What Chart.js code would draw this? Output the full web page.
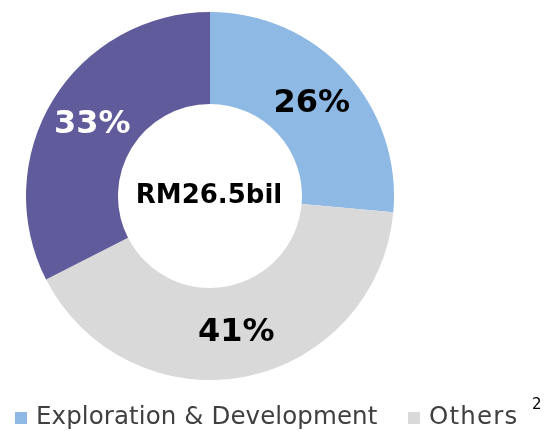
<!DOCTYPE html>
<html>
<head>
<meta charset="utf-8">
<script src="https://cdn.jsdelivr.net/npm/chart.js@4.4.0/dist/chart.umd.min.js"></script>
<style>
  html, body { margin: 0; padding: 0; background: #fff; font-family: "DejaVu Sans", Verdana, sans-serif; }
  #wrap { position: relative; width: 546px; height: 431px; }
</style>
</head>
<body>
<div id="wrap"><canvas id="spendChart" width="546" height="431"></canvas></div>
<script>
var categories = ['Exploration & Development', 'Others', 'Production'];
var shares = [26.4, 41.1, 32.5];
var sliceColors = ['#8EB9E5', '#D9D9D9', '#605B9B'];
var labelColors = ['#000000', '#000000', '#FFFFFF'];
var legendShown = ['Exploration & Development', 'Others']; // third entry is cut off in the source
var centerLabel = 'RM26.5bil';
var footnoteMark = '2';

var FONT = '"DejaVu Sans", Verdana, sans-serif';

// percentage labels on the slices + the total in the hole
var sliceLabels = {
    id: 'sliceLabels',
    afterDatasetsDraw: function(chart) {
        var ctx = chart.ctx;
        var meta = chart.getDatasetMeta(0);
        ctx.save();
        ctx.textAlign = 'center';
        ctx.textBaseline = 'middle';
        ctx.font = 'bold 32px ' + FONT;
        meta.data.forEach(function(arc, i) {
            var p = arc.tooltipPosition();
            ctx.fillStyle = labelColors[i];
            ctx.fillText(Math.round(shares[i]) + '%', p.x, p.y + 1);
        });
        var c = meta.data[0];
        ctx.fillStyle = '#000';
        ctx.font = 'bold 26px ' + FONT;
        ctx.fillText(centerLabel, c.x - 1, c.y);
        ctx.restore();
    }
};

// legend drawn by hand so it can sit independent of the doughnut's centre
var legendBoxX = [15, 408];
var bottomLegend = {
    id: 'bottomLegend',
    afterDraw: function(chart) {
        var ctx = chart.ctx;
        var baseline = 424;
        ctx.save();
        ctx.font = '24.5px ' + FONT;
        ctx.textBaseline = 'alphabetic';
        legendShown.forEach(function(name, i) {
            var idx = categories.indexOf(name);
            var x = legendBoxX[i];
            ctx.fillStyle = sliceColors[idx];
            ctx.fillRect(x, baseline - 12, 12, 12);
            ctx.fillStyle = '#404040';
            ctx.letterSpacing = i === 1 ? '1.2px' : '0.1px';
            ctx.fillText(name, x + 21, baseline);
        });
        ctx.letterSpacing = '0px';
        ctx.fillStyle = '#000';
        ctx.font = '15px ' + FONT;
        ctx.fillText(footnoteMark, 532, 409);
        ctx.restore();
    }
};

var spendChartInstance = new Chart(document.getElementById('spendChart'), {
    type: 'doughnut',
    data: {
        labels: categories,
        datasets: [{
            data: shares,
            backgroundColor: sliceColors,
            borderWidth: 0
        }]
    },
    options: {
        responsive: false,
        animation: false,
        cutout: '50%',
        layout: { padding: { left: 26, right: 152, top: 12, bottom: 51 } },
        plugins: {
            legend: { display: false },
            tooltip: { enabled: false }
        }
    },
    plugins: [sliceLabels, bottomLegend]
});
</script>
</body>
</html>
